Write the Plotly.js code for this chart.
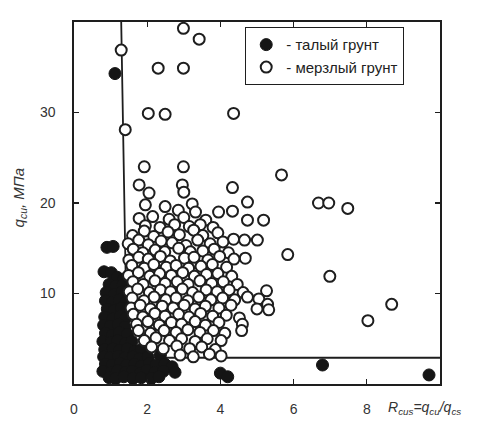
<!DOCTYPE html>
<html>
<head>
<meta charset="utf-8">
<script src="https://cdn.plot.ly/plotly-3.0.1.min.js"></script>
<style>html,body{margin:0;padding:0;background:#fff;}#chart{width:478px;height:425px;}</style>
</head>
<body>
<div id="chart"></div>
<script>
// Boundary line (L-shape)
const boundaryX = [1.29, 1.45, 10];
const boundaryY = [40, 2.9, 2.9];

// Thawed soil (filled circles)
const thawedX = [
  1.12, 0.9, 1.07, 4.0, 4.2, 6.79, 9.7, 2.36,
  0.82, 1.02,
  1.18, 1.36,
  0.96, 1.14, 1.33,
  0.88, 1.11, 1.31,
  0.86, 1.04, 1.24, 1.42,
  0.91, 1.09, 1.29,
  0.84, 1.06, 1.26, 1.41,
  0.81, 0.99, 1.21, 1.39,
  0.86, 1.04, 1.24, 1.46,
  0.79, 1.01, 1.19, 1.41, 1.58,
  0.84, 1.06, 1.24, 1.46, 1.66, 1.83,
  0.81, 0.99, 1.21, 1.39, 1.61, 1.79, 2.02,
  0.86, 1.04, 1.26, 1.44, 1.66, 1.84, 2.06, 2.24, 2.48, 2.68,
  0.79, 1.01, 1.19, 1.41, 1.59, 1.81, 1.99, 2.21, 2.44, 2.76,
  0.96, 1.14, 1.36, 1.61, 1.84, 2.11, 2.32
];
const thawedY = [
  34.3, 15.1, 15.2, 1.2, 0.8, 2.1, 1.0, 3.2,
  12.4, 12.3,
  11.8, 11.6,
  11.0, 10.8, 10.9,
  10.1, 9.9, 10.2,
  9.2, 9.0, 9.3, 9.1,
  8.3, 8.1, 8.4,
  7.4, 7.2, 7.5, 7.3,
  6.5, 6.4, 6.6, 6.3,
  5.6, 5.4, 5.7, 5.5,
  4.7, 4.6, 4.8, 4.5, 4.7,
  3.8, 3.9, 3.7, 3.9, 3.6, 3.8,
  3.0, 2.9, 3.1, 2.9, 3.0, 2.8, 3.0,
  2.2, 2.1, 2.3, 2.1, 2.2, 2.0, 2.3, 2.1, 2.2, 1.9,
  1.4, 1.3, 1.5, 1.3, 1.4, 1.2, 1.5, 1.3, 1.4, 1.3,
  0.7, 0.6, 0.8, 0.6, 0.7, 0.6, 0.8
];

// Frozen soil (open circles)
const frozenX = [
  2.99, 3.42, 1.29, 2.30, 2.99, 2.03, 2.49, 4.36, 1.40, 1.92, 2.99, 1.78, 2.05, 2.96, 3.0,
  4.33, 5.67, 4.74, 6.68, 6.96, 7.48, 6.99, 8.68, 8.03, 5.84, 4.68, 4.36, 4.66, 5.01,
  4.74, 5.18, 3.95, 4.33,
  1.95, 2.49, 3.23,
  3.32, 2.85,
  1.78, 2.15, 2.6, 3.0, 3.6,
  1.95, 2.35, 2.75, 3.15, 3.45, 3.8,
  1.6, 1.92, 2.18, 2.57, 2.88, 3.27, 3.52, 3.93,
  1.48, 1.77, 2.03, 2.38, 2.68, 3.06, 3.38, 3.72, 4.07,
  1.62, 1.88, 2.22, 2.48, 2.86, 3.18, 3.52, 3.83, 4.22,
  1.5, 1.77, 2.03, 2.36, 2.63, 3.02, 3.28, 3.66, 3.98, 4.37,
  1.58, 1.92, 2.18, 2.52, 2.79, 3.13, 3.47, 3.78, 4.17,
  1.49, 1.76, 2.07, 2.34, 2.66, 2.97, 3.29, 3.62, 3.93, 4.31,
  1.61, 1.89, 2.21, 2.49, 2.82, 3.12, 3.44, 3.76, 4.08, 4.46,
  1.51, 1.74, 2.06, 2.36, 2.64, 2.96, 3.24, 3.61, 3.91, 4.24, 4.62, 5.26,
  1.59, 1.91, 2.19, 2.51, 2.79, 3.11, 3.41, 3.74, 4.06, 4.39, 4.74, 5.05,
  1.56, 1.81, 2.09, 2.41, 2.71, 3.01, 3.31, 3.59, 3.96, 4.29, 5.0, 5.29,
  1.62, 1.88, 2.21, 2.49, 2.86, 3.14, 3.46, 3.79, 4.16, 4.52, 5.32,
  1.71, 2.02, 2.33, 2.66, 2.94, 3.31, 3.59, 3.96, 4.6,
  1.76, 2.09, 2.46, 2.79, 3.11, 3.44, 3.81, 4.12, 4.58,
  1.92, 2.24, 2.61, 2.94, 3.31, 3.64, 4.02,
  2.12, 2.44, 2.81, 3.16, 3.49, 3.86,
  2.9, 3.26, 3.7, 4.02
];
const frozenY = [
  39.3, 38.1, 36.9, 34.9, 34.9, 29.9, 29.8, 29.9, 28.1, 24.0, 24.0, 22.0, 21.1, 22.0, 21.2,
  21.7, 23.1, 20.1, 20.0, 20.0, 19.4, 11.9, 8.8, 7.0, 14.3, 13.9, 16.0, 15.9, 15.9,
  18.1, 18.1, 19.0, 19.1,
  19.8, 19.6, 19.9,
  19.0, 19.2,
  18.3, 18.5, 18.2, 18.4, 18.1,
  17.5, 17.3, 17.6, 17.4, 17.6, 17.3,
  16.4, 16.9, 16.3, 16.8, 16.5, 17.0, 16.4, 16.7,
  15.5, 15.9, 15.4, 15.8, 15.6, 15.3, 15.9, 15.5, 15.7,
  14.9, 14.5, 14.8, 14.6, 15.0, 14.6, 14.7, 14.9, 14.5,
  13.7, 14.0, 13.8, 14.1, 13.6, 13.9, 14.0, 13.7, 14.1, 13.8,
  13.1, 12.8, 13.2, 12.9, 13.1, 12.8, 13.0, 13.2, 12.9,
  12.0, 12.3, 11.9, 12.2, 12.0, 12.3, 11.9, 12.1, 12.2, 11.9,
  11.3, 11.0, 11.4, 11.1, 11.3, 11.0, 11.4, 11.1, 11.3, 11.0,
  10.2, 10.5, 10.1, 10.4, 10.2, 10.5, 10.1, 10.4, 10.2, 10.4, 10.1, 10.3,
  9.5, 9.2, 9.6, 9.3, 9.5, 9.2, 9.6, 9.3, 9.5, 9.3, 9.6, 9.4,
  8.4, 8.7, 8.3, 8.6, 8.4, 8.7, 8.3, 8.6, 8.4, 8.7, 8.3, 8.8,
  7.7, 7.4, 7.8, 7.5, 7.7, 7.4, 7.8, 7.5, 7.6, 7.3, 8.2,
  6.6, 6.9, 6.5, 6.8, 6.6, 6.9, 6.5, 6.8, 6.6,
  5.9, 5.6, 5.9, 5.7, 6.0, 5.7, 5.9, 5.6, 5.9,
  4.8, 5.1, 4.8, 5.0, 4.7, 5.0, 4.8,
  4.1, 3.9, 4.2, 3.9, 4.1, 3.8,
  3.2, 3.0, 3.3, 3.1
];

const xTicks = [0, 2, 4, 6, 8];
const yTicks = [10, 20, 30];
const legendNames = ['- талый грунт', '- мерзлый грунт'];
const xTitle = '<i>R<sub>cus</sub>=q<sub>cu</sub>/q<sub>cs</sub></i>';
const yTitle = '<i>q<sub>cu</sub>, МПа</i>';

const ink = '#1e1e1e';
const fontFam = '"Liberation Sans", Arial, sans-serif';

const traces = [
  {x: boundaryX, y: boundaryY, mode: 'lines', type: 'scatter', showlegend: false,
   line: {color: ink, width: 1.8}, hoverinfo: 'skip'},
  {x: thawedX, y: thawedY, mode: 'markers', type: 'scatter', name: legendNames[0],
   marker: {symbol: 'circle', size: 12, color: '#151515', line: {color: '#151515', width: 1}}},
  {x: frozenX, y: frozenY, mode: 'markers', type: 'scatter', name: legendNames[1],
   marker: {symbol: 'circle', size: 11, color: '#ffffff', line: {color: ink, width: 2}}}
];

const layout = {
  width: 478, height: 425,
  margin: {l: 74, r: 38, t: 22, b: 41},
  paper_bgcolor: '#fff', plot_bgcolor: '#fff',
  font: {family: fontFam, size: 14, color: '#333'},
  showlegend: true,
  legend: {x: 0.467, y: 0.986, xanchor: 'left', yanchor: 'top',
           bordercolor: ink, borderwidth: 1.3, bgcolor: '#fff',
           font: {family: fontFam, size: 15, color: '#222'}},
  xaxis: {range: [0, 10], tickvals: xTicks, ticktext: xTicks.map(String),
          ticks: 'inside', ticklen: 5, tickcolor: ink, tickwidth: 1.3,
          showline: true, linecolor: ink, linewidth: 1.6, mirror: 'ticks',
          showgrid: false, zeroline: false, ticklabelstandoff: 12,
          tickfont: {size: 14, color: '#333'}},
  yaxis: {range: [0, 40], tickvals: yTicks, ticktext: yTicks.map(String),
          ticks: 'inside', ticklen: 5, tickcolor: ink, tickwidth: 1.3,
          showline: true, linecolor: ink, linewidth: 1.6, mirror: 'ticks',
          showgrid: false, zeroline: false, ticklabelstandoff: 14,
          tickfont: {size: 14, color: '#333'}},
  annotations: [
    {text: xTitle, xref: 'paper', yref: 'paper', x: 0.852, y: -0.066,
     xanchor: 'left', yanchor: 'middle', showarrow: false,
     font: {family: fontFam, size: 14, color: '#333'}},
    {text: yTitle, xref: 'paper', yref: 'paper', x: -0.148, y: 0.515,
     xanchor: 'center', yanchor: 'middle', showarrow: false, textangle: -90,
     font: {family: fontFam, size: 15, color: '#333'}}
  ]
};

Plotly.newPlot('chart', traces, layout, {displayModeBar: false, staticPlot: true});
</script>
</body>
</html>
